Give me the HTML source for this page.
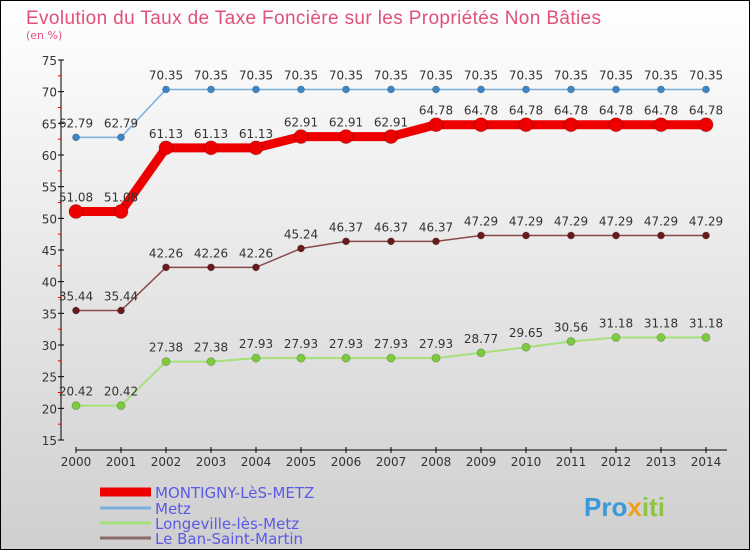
<!DOCTYPE html>
<html><head><meta charset="utf-8"><style>
body{margin:0;width:750px;height:550px;overflow:hidden}
svg{display:block;font-family:"DejaVu Sans","Liberation Sans",sans-serif}
</style></head><body>
<svg id="c" width="750" height="550" xmlns="http://www.w3.org/2000/svg">
<defs><linearGradient id="bg" x1="0" y1="0" x2="0" y2="1"><stop offset="0" stop-color="#ffffff"/><stop offset="1" stop-color="#cfcfcf"/></linearGradient></defs>
<rect x="0.5" y="0.5" width="749" height="549" fill="url(#bg)" stroke="#000"/>
<text x="26" y="24" font-size="19" fill="#e0507a" style="font-family:'Liberation Sans',sans-serif" textLength="575">Evolution du Taux de Taxe Foncière sur les Propriétés Non Bâties</text>
<text x="26" y="39" font-size="11" fill="#e0507a">(en %)</text>
<g id="axes"></g><g id="series"></g><g id="legend"></g>
<text x="584" y="516" font-size="26" font-weight="bold" fill="#3a9ad9" style="font-family:'Liberation Sans',sans-serif">Pro<tspan fill="#f0a020">x</tspan><tspan fill="#8cc63f">iti</tspan></text>
</svg>
<script>
const years=[2000,2001,2002,2003,2004,2005,2006,2007,2008,2009,2010,2011,2012,2013,2014];
const yTicks=[15,20,25,30,35,40,45,50,55,60,65,70,75];
const montigny=[51.08,51.08,61.13,61.13,61.13,62.91,62.91,62.91,64.78,64.78,64.78,64.78,64.78,64.78,64.78];
const metz=[62.79,62.79,70.35,70.35,70.35,70.35,70.35,70.35,70.35,70.35,70.35,70.35,70.35,70.35,70.35];
const longeville=[20.42,20.42,27.38,27.38,27.93,27.93,27.93,27.93,27.93,28.77,29.65,30.56,31.18,31.18,31.18];
const ban=[35.44,35.44,42.26,42.26,42.26,45.24,46.37,46.37,46.37,47.29,47.29,47.29,47.29,47.29,47.29];
const NS="http://www.w3.org/2000/svg";
const X=i=>76+i*45, Y=v=>440-(v-15)*(380/60);
function mk(tag,attrs,parent,txt){const e=document.createElementNS(NS,tag);for(const k in attrs)e.setAttribute(k,attrs[k]);if(txt!==undefined)e.textContent=txt;parent.appendChild(e);return e;}
const ax=document.getElementById('axes');
let e=mk('line',{x1:61,y1:60,x2:61,y2:440,stroke:'#000'},ax);

yTicks.forEach(v=>{
 let t=mk('line',{x1:58,y1:Y(v),x2:64,y2:Y(v),stroke:'#000'},ax);
 
 if(v<75){let m=mk('line',{x1:58,y1:Y(v+2.5),x2:61,y2:Y(v+2.5),stroke:'#e00'},ax);
 }
 let l=mk('text',{x:57,y:Y(v)+5,'font-size':12,'text-anchor':'end',fill:'#333'},ax,v);
 
});
e=mk('line',{x1:76,y1:450,x2:727,y2:450,stroke:'#000'},ax);

years.forEach((y,i)=>{
 let t=mk('line',{x1:X(i),y1:447,x2:X(i),y2:453,stroke:'#000'},ax);
 
 let l=mk('text',{x:X(i),y:466,'font-size':12,'text-anchor':'middle',fill:'#333'},ax,y);
 
});
const sg=document.getElementById('series');
function fmt(v){let s=v.toFixed(2);return s;}
function series(name,data,color,w,r,dot,lab){
 const g=mk('g',{},sg);
 
 let p=mk('polyline',{points:data.map((v,i)=>X(i)+','+Y(v)).join(' '),fill:'none',stroke:color,'stroke-width':w,'stroke-linejoin':'round'},g);
 
 data.forEach((v,i)=>{
  let c=mk('circle',{cx:X(i),cy:Y(v),r:r,fill:dot,stroke:'rgba(0,0,0,0.2)'},g);
  
  if(lab){let t=mk('text',{x:X(i),y:Y(v)-10,'font-size':12,'text-anchor':'middle',fill:'#333'},g,fmt(v));
  }
 });
}
series('longeville',longeville,'#a6e07a',2,4,'#7ccc3c',true);
series('le-ban-saint-martin',ban,'#8a4a4a',1.5,3.5,'#6a1a1a',true);
series('metz',metz,'#7aaedc',1.5,3.5,'#3a86c6',true);
series('montigny',montigny,'#ee0000',9,7,'#ee0000',true);
const lg=document.getElementById('legend');
[['MONTIGNY-LèS-METZ','#ee0000',9,492],['Metz','#7aaedc',3,508],['Longeville-lès-Metz','#a6e07a',3,523],['Le Ban-Saint-Martin','#8a6a6a',3,538]].forEach(([n,c,w,y])=>{
 const g=mk('g',{},lg);
 
 let l=mk('line',{x1:100,y1:y,x2:151,y2:y,stroke:c,'stroke-width':w},g);
 
 let t=mk('text',{x:155,y:y+6,'font-size':15,fill:'#5a5ae6'},g,n);
 
});
</script>
</body></html>
